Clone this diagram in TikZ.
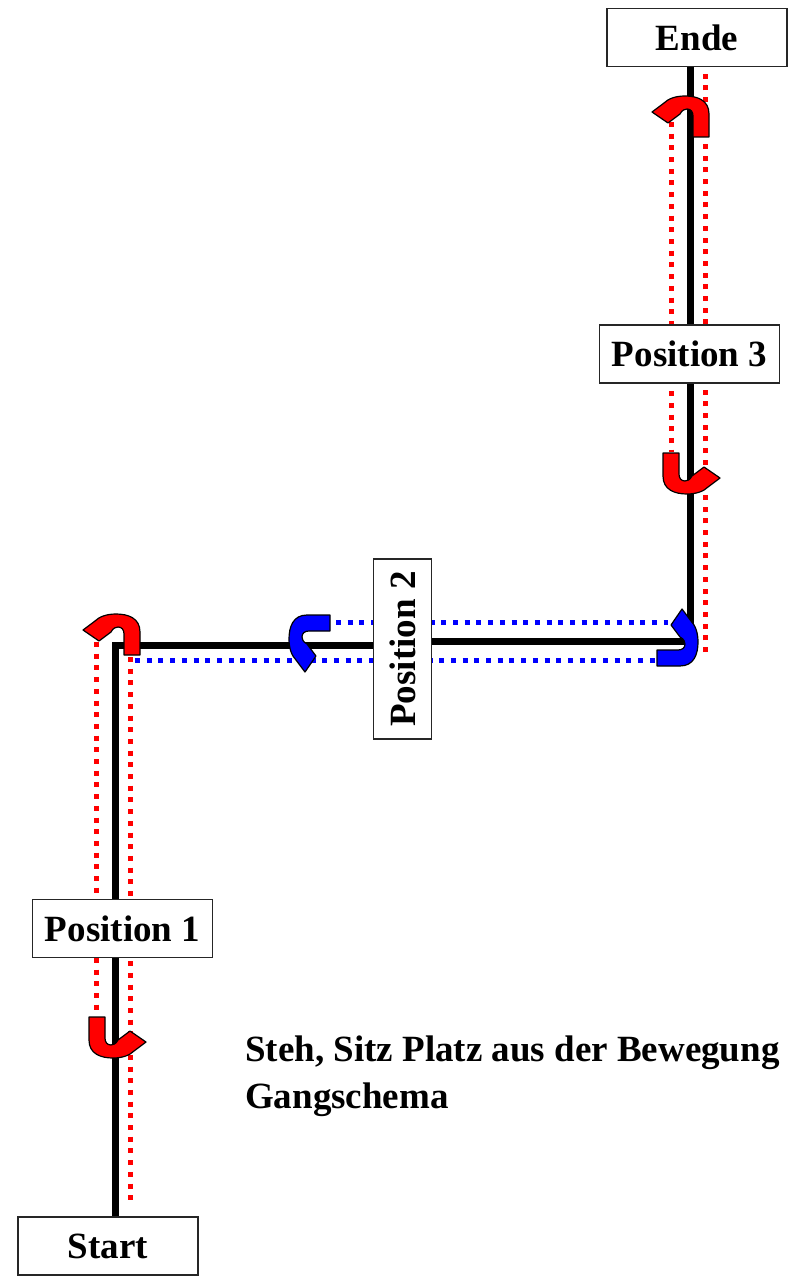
\documentclass[tikz,border=0pt]{standalone}
\usepackage{fontspec}
\setmainfont{Liberation Serif}
\usetikzlibrary{backgrounds}

\tikzset{
    % U-turn block arrow, drawn in screen units
    uturn/.pic={
        \path[fill=#1, draw=black, line width=1.2pt, line join=round]
            (-26,-23) -- (-26,0)
            .. controls (-26,14) and (-14,18) .. (-2,18)
            .. controls (8,18) and (15,15) .. (19,11)
            -- (31,2) -- (15,-9) -- (3,0)
            .. controls (1,4) and (-2,5) .. (-4,5)
            .. controls (-8,5) and (-10,2) .. (-10,-2)
            -- (-10,-23) -- cycle;
    }
}

\begin{document}
\begin{tikzpicture}[
    x=1pt, y=-1pt,
    % Station style
    posbox/.style={
        rectangle,
        draw=black!85,
        line width=1.3pt,
        fill=white,
        minimum width=180pt,
        minimum height=58pt,
        inner sep=0pt,
        font=\fontsize{37}{44}\selectfont\bfseries
    },
    track/.style={
        line width=7pt,
        black,
        line join=miter
    },
    redpath/.style={
        red,
        line width=5pt,
        dash pattern=on 5pt off 6.7pt
    },
    bluepath/.style={
        blue,
        line width=5pt,
        dash pattern=on 5pt off 6.7pt
    },
    caption/.style={
        font=\fontsize{37}{47}\selectfont\bfseries,
        align=left,
        inner sep=0pt
    }
]
\useasboundingbox (0,0) rectangle (796,1276);

% === Stations ===
\node[posbox] (start) at (108,1246) {Start};
\node[posbox] (pos1) at (122.5,928.5) {Position 1};
\node[posbox, rotate=90] (pos2) at (402.5,649) {Position 2};
\node[posbox] (pos3) at (689.5,354) {Position 3};
\node[posbox] (ende) at (697,37.5) {Ende};

\node[caption, anchor=base west] (legend) at (245,1108) {Steh, Sitz Platz aus der Bewegung\\Gangschema};

% === Corners of the track ===
\coordinate (bendA) at (115,645);
\coordinate (bendB) at (690,641);
\coordinate (rightend) at (705,652);

% === Track and walking lines ===
\begin{scope}[on background layer]
    \draw[track] (bendA |- start.north) -- (bendA) -- (bendA -| pos2.north);
    \draw[track] (pos2.south |- bendB) -- (bendB) -- (bendB |- ende.south);

    \draw[redpath] (96,642) -- (96,1015);
    \draw[redpath] (130,657) -- (130,1200);
    \draw[redpath] (671,122) -- (671,452);
    \draw[redpath] (rightend) -- (rightend |- ende.south);

    \draw[bluepath] (135,660) -- (657,660);
    \draw[bluepath] (336,622) -- (668,622);
\end{scope}

% === Turns ===
\pic at (115,1040) {uturn=red};
\pic[rotate=180] at (114,632) {uturn=red};
\pic at (689,476) {uturn=red};
\pic[rotate=180] at (683,114) {uturn=red};
\pic[rotate=-90] at (307,641) {uturn=blue};
\pic[rotate=90] at (680,640) {uturn=blue};

\end{tikzpicture}
\end{document}
